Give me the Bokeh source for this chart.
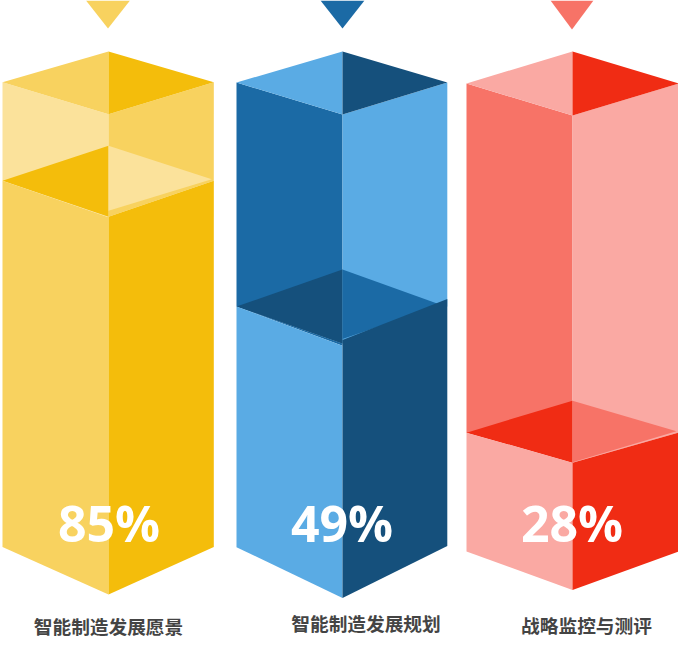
from bokeh.plotting import figure
from bokeh.models import Range1d
from bokeh.core.properties import value
from bokeh.embed import file_html
from bokeh.resources import INLINE

# ---- data ----
categories = ["智能制造发展愿景", "智能制造发展规划", "战略监控与测评"]
percent_labels = [85, 49, 28]
# liquid height of each column, in % of the column's wall as drawn
fill_heights = [78.8, 51.8, 25.4]

# ---- styles ----
light_colors = ["#F8D25F", "#5AABE4", "#FAA9A3"]
mid_colors = ["#FBE29B", "#1B6AA5", "#F77367"]
dark_colors = ["#F4BD0B", "#15507C", "#F02C14"]
# ---- layout (page pixels) ----
lefts = [2, 236, 466]
centers = [108, 342, 572]
rights = [213.3, 446.8, 678]
rim_y = [81.7, 82, 83]
apex_y = [51, 51, 51]
front_y = [113.7, 114, 115]
bottom_y = [546.5, 546.7, 551]
bottom_right_y = [546.5, 545.5, 551]
tip_y = [594, 597.5, 589.5]
liquid_back = [35, 37, 32]
liquid_front = [36, 37, 30]
right_rise = [0, 7.5, 0]          # right corner of the front-right face above the level
lower_left_extra = [0.5, 2.3, 0]  # front-left face starts below the surface
surface_gap = [6, 4.5, 0.5]       # gap between pale surface and front-right face
surface_corner = [2, 6, 2]        # inset of the surface's right corner
lower_right_start = [0, 3.5, 0]   # front-right face's top at the centre line, above fr
marker_half = [22, 22, 21.5]
marker_x = [107.5, 342, 571.5]
marker_y = [28, 28, 29]
percent_x = [108.5, 341.5, 571.5]
label_x = [108, 365.5, 586]
label_y = [625, 622, 624]

p = figure(width=678, height=654, output_backend="svg", toolbar_location=None,
           x_range=Range1d(0, 678), y_range=Range1d(654, 0),
           min_border=0, outline_line_color=None, background_fill_color="white",
           border_fill_color=None)
p.axis.visible = False
p.grid.visible = False


def poly(pts, color):
    p.patch([a for a, _ in pts], [b for _, b in pts], fill_color=color, line_color=None)


for i, h in enumerate(fill_heights):
    l, c, r = lefts[i], centers[i], rights[i]
    rim, apex, front, bot, tip = rim_y[i], apex_y[i], front_y[i], bottom_y[i], tip_y[i]
    light, mid, dark = light_colors[i], mid_colors[i], dark_colors[i]
    level = bot - (bot - rim) * h / 100
    back = level - liquid_back[i]
    fr = level + liquid_front[i]
    level_r = level - right_rise[i]

    # marker triangle
    poly([(marker_x[i] - marker_half[i], 0), (marker_x[i] + marker_half[i], 0),
          (marker_x[i], marker_y[i])], [light, mid, mid][i])

    # walls above the liquid
    poly([(l, rim), (c, front), (c, fr), (l, level)], mid)
    poly([(c, front), (r, rim), (r, level), (c, fr)], light)

    # lid
    poly([(l, rim), (c, apex), (c, front)], light)
    poly([(c, apex), (r, rim), (c, front)], dark)

    # liquid surface, with a backing so that no white shows through the seams
    poly([(l, level), (c, fr), (c, fr + lower_left_extra[i])], mid)
    poly([(l, level), (c, back), (c, fr)], dark)
    poly([(c, back), (r - surface_corner[i], level - 1.5), (c, fr - surface_gap[i])], mid)

    # lower body
    poly([(l, level), (c, fr + lower_left_extra[i]), (c, tip), (l, bot)], light)
    poly([(c, fr - lower_right_start[i]), (r, level_r),
          (r, bottom_right_y[i]), (c, tip)], dark)

    # value and name
    p.text([percent_x[i]], [522], text=[f"{percent_labels[i]}%"],
           text_font=value("Open Sans"), text_font_style="bold", text_font_size="50px",
           text_color="white", text_align="center", text_baseline="middle")
    p.text([label_x[i]], [label_y[i]], text=[categories[i]],
           text_font=value("Noto Sans CJK SC"), text_font_style="bold", text_font_size="18.7px",
           text_color="#444444", text_align="center", text_baseline="middle")

open("out.html", "w").write(file_html(p, INLINE))
